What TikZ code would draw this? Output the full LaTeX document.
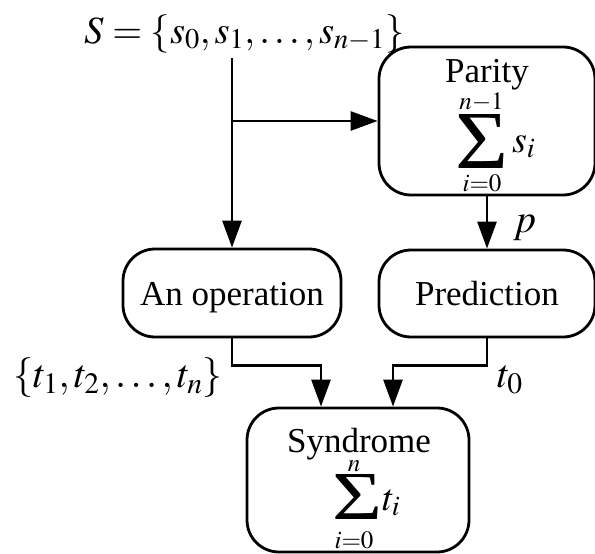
\documentclass[tikz,border=0pt]{standalone}
\usepackage{mathptmx}
\usepackage{fontspec}
\setmainfont{Liberation Serif}
\usetikzlibrary{arrows.meta,calc}
\tikzset{
  box/.style={draw, line width=2.8pt, rounded corners=32pt, inner sep=0pt, align=center,
    text height=24pt, text depth=0pt, font=\fontsize{35}{40}\selectfont},
  lbl/.style={inner sep=0pt, font=\fontsize{35}{40}\selectfont},
  mth/.style={inner sep=0pt, font=\fontsize{40}{44}\selectfont},
  summand/.style={inner sep=0pt, font=\fontsize{38}{42}\selectfont},
  limit/.style={inner sep=0pt, font=\fontsize{25}{27}\selectfont},
  sig/.style={inner sep=0pt, font=\fontsize{60}{60}\selectfont},
  arr/.style={line width=2.8pt, -{Triangle[length=27pt,width=19pt]}}
}
\begin{document}
\begin{tikzpicture}[x=1pt,y=-1pt]
\useasboundingbox (0,0) rectangle (595,554);
\node[inner sep=0pt, font=\fontsize{38.5}{42}\selectfont, anchor=base west] (S) at (84,43)
  {$S=\{s_0,s_1,\ldots,s_{n-1}\}$};
% boxes
\node[box, minimum width=216pt, minimum height=148pt] (par) at (487,121) {};
\node[box, minimum width=218pt, minimum height=88pt] (op) at (232,293) {An operation};
\node[box, minimum width=216pt, minimum height=87pt] (pred) at (487,293.5) {Prediction};
\node[box, minimum width=222pt, minimum height=144pt] (syn) at (358,480) {};
% Parity contents
\node[lbl, anchor=base] (partxt) at (487,82) {Parity};
\node[sig] (psig) at (481.5,141) {\resizebox{53pt}{54pt}{Σ}};
\node[limit, anchor=base] (pup) at (481.5,109) {$n{-}1$};
\node[limit, anchor=base] (plo) at (482,191) {$i{=}0$};
\node[summand, anchor=base west] (psum) at (512,152) {$s_i$};
% Syndrome contents
\node[lbl, anchor=base] (syntxt) at (359,452) {Syndrome};
\node[sig] (ssig) at (357,496.5) {\resizebox{50pt}{45pt}{Σ}};
\node[limit, anchor=base] (sup) at (354,471) {$n$};
\node[limit, anchor=base] (slo) at (354,548) {$i{=}0$};
\node[summand, anchor=base west] (ssum) at (382,510) {$t_i$};
% connectors
\coordinate (s0) at (232,58);
\coordinate (split) at (op.north |- par.west);
\draw[arr] (s0) -- (op.north);
\draw[arr] (split) -- (par.west);
\draw[arr] (par.south) -- (pred.north);
\node[mth, anchor=base west] (p) at (513,232) {$p$};
\coordinate (inL) at ($(syn.north)+(-37,0)$);
\coordinate (inR) at ($(syn.north)+(35,0)$);
\draw[arr] (op.south) -- ++(0,27) -| (inL);
\draw[arr] (pred.south) -- ++(0,27) -| (inR);
\node[mth, anchor=base west] (tset) at (13,387) {$\{t_1,t_2,\ldots,t_n\}$};
\node[mth, anchor=base west] (t0) at (497,387) {$t_0$};
\end{tikzpicture}
\end{document}
